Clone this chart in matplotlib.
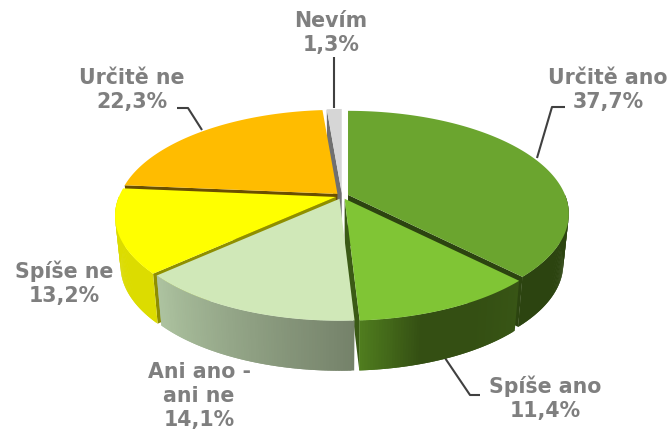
#!/usr/bin/env python

import numpy
import matplotlib
matplotlib.use("Agg")
import matplotlib.pyplot as plt
from matplotlib.colors import to_rgb
from matplotlib.patches import Polygon

labels = ["Určitě ano", "Spíše ano", "Ani ano -\nani ne", "Spíše ne", "Určitě ne", "Nevím"]
values = [37.7, 11.4, 14.1, 13.2, 22.3, 1.3]
top_colors = ["#6BA52F", "#80C535", "#D0E8B8", "#FFFF00", "#FFBC00", "#D6D6D6"]
wall_colors = [["#2C4410", "#2C4410"],
               ["#385515", "#344F13", "#344F13", "#4F7C1E"],
               ["#75826A", "#ADC3A0"],
               ["#DCDC00", "#DCDC00"],
               ["#806000", "#806000"],
               ["#808080", "#808080"]]
edge_colors = ["#2C4410", "#3A5A15", "#9AA88A", "#8F8F00", "#6B4F00", "#707070"]
label_xy = [(608, 90), (545, 398), (199, 396), (64, 283), (132, 90), (331, 33)]
leaders = [[(537, 158), (552, 107), (565, 107)],
           [(445, 358), (470, 395), (480, 395)],
           [],
           [],
           [(202, 130), (188, 108), (177, 108)],
           [(334, 57), (334, 108)]]

# pie geometry in pixels, the circle is seen in perspective
cx, cy = 342.0, 196.0
a, b, k = 217.0, 99.5, 0.184
explode = 0.03
depth = 50.0
bottom_scale = 0.975
text_color = "#7F7F7F"


def project(u, v, x0, y0, sx=1.0):
    w = 1.0 - k * v
    return x0 + sx * a * u / w, y0 + b * v / w


def blend(stops, t):
    rgb = numpy.array([to_rgb(c) for c in stops])
    pos = numpy.linspace(0, 1, len(stops))
    return [numpy.interp(t, pos, rgb[:, i]) for i in range(3)]


fig = plt.figure(figsize=(6.71, 4.34), dpi=100)
axes = fig.add_axes([0, 0, 1, 1])
axes.set_xlim(0, 671)
axes.set_ylim(434, 0)
axes.axis("off")

# leader lines go under the pie
for line in leaders:
    if line:
        xs, ys = zip(*line)
        axes.plot(xs, ys, color="#404040", lw=1.5, zorder=1, solid_capstyle="butt")

edges = numpy.cumsum([0] + values) / sum(values) * 2 * numpy.pi
order = [5, 4, 0, 3, 1, 2]
z = 2
for i in order:
    mid = 0.5 * (edges[i] + edges[i + 1])
    ex, ey = project(explode * numpy.sin(mid), -explode * numpy.cos(mid), cx, cy)
    theta = numpy.linspace(edges[i], edges[i + 1], max(int(values[i] * 6), 8))
    u, v = numpy.sin(theta), -numpy.cos(theta)
    x_top, y_top = project(u, v, ex, ey)
    x_bot, y_bot = project(u, v, ex, ey + depth, bottom_scale)

    # the cut faces, only those turned towards the viewer
    for j, visible in [(0, -numpy.sin(edges[i]) > 1e-6), (-1, numpy.sin(edges[i + 1]) > 1e-6)]:
        if visible:
            face = [(ex, ey), (x_top[j], y_top[j]), (x_bot[j], y_bot[j]), (ex, ey + depth)]
            axes.add_patch(Polygon(face, closed=True, fc=edge_colors[i], ec="none", zorder=z))
            z += 1

    # the outer wall, in overlapping strips for the gradient
    for j in range(len(theta) - 1):
        if v[j] < 0 and v[j + 1] < 0:
            continue
        n = min(j + 2, len(theta) - 1)
        strip = list(zip(x_top[j:n + 1], y_top[j:n + 1])) + list(zip(x_bot[j:n + 1], y_bot[j:n + 1]))[::-1]
        col = blend(wall_colors[i], j / (len(theta) - 2))
        axes.add_patch(Polygon(strip, closed=True, fc=col, ec="none", zorder=z))
        z += 1

    outline = [(ex, ey)] + list(zip(x_top, y_top))
    axes.add_patch(Polygon(outline, closed=True, fc=top_colors[i], ec="none", zorder=z))
    z += 1

    axes.text(label_xy[i][0], label_xy[i][1],
              "%s\n%s%%" % (labels[i], str(values[i]).replace(".", ",")),
              ha="center", va="center", ma="center", color=text_color,
              fontsize=14.8, fontweight="bold", family="DejaVu Sans",
              linespacing=1.25, zorder=1000)

fig.savefig("out.png", dpi=100)
